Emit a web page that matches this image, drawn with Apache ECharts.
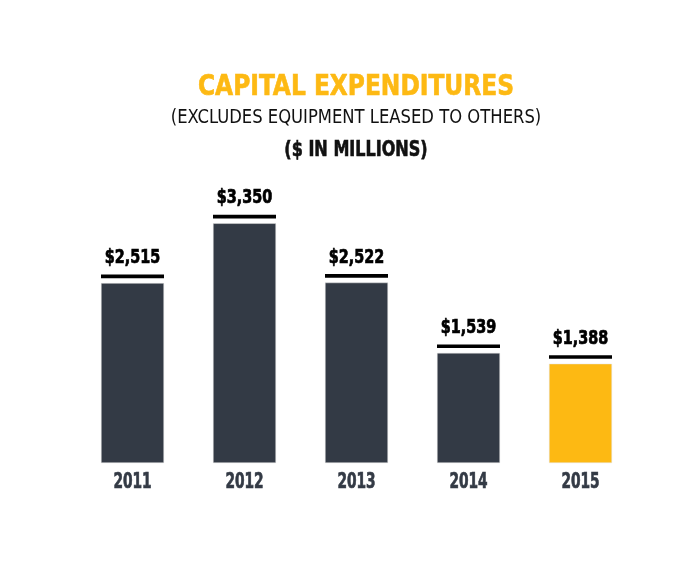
<!DOCTYPE html>
<html>
<head>
<meta charset="utf-8">
<script src="https://cdn.jsdelivr.net/npm/echarts@6/dist/echarts.min.js"></script>
<style>
  html, body { margin: 0; padding: 0; background: #fff; }
  #main { width: 685px; height: 567px; }
</style>
</head>
<body>
<div id="main"></div>
<script>
var years = ['2011', '2012', '2013', '2014', '2015'];
var capex = [2515, 3350, 2522, 1539, 1388];
var barLabels = ['$2,515', '$3,350', '$2,522', '$1,539', '$1,388'];

var DARK = '#333a45';
var YELLOW = '#fdb913';
// 没有窄体字体, 用 DejaVu Sans Condensed 再横向压缩
var FONT = '"DejaVu Sans Condensed", "DejaVu Sans", sans-serif';
var BAR_W = 63;

var myChart = echarts.init(document.getElementById('main'));

// 最后一年用黄色
var barData = [];
var topData = [];
for (var i = 0; i < capex.length; i++) {
  barData.push({
    value: capex[i],
    itemStyle: { color: i == capex.length - 1 ? YELLOW : DARK }
  });
  topData.push([i, capex[i]]);
}

function titleText(text, y, size, weight, color, sx, sw) {
  return {
    type: 'text',
    x: 356,
    y: y,
    scaleX: sx,
    style: {
      text: text,
      align: 'center',
      verticalAlign: 'middle',
      fontFamily: FONT,
      fontWeight: weight,
      fontSize: size,
      fill: color,
      stroke: sw ? color : null,
      lineWidth: sw || 0
    }
  };
}

// 柱顶黑线 + 数值 + 年份
function renderTop(params, api) {
  var idx = params.dataIndex;
  var top = api.coord([api.value(0), api.value(1)]);
  var base = api.coord([api.value(0), 0]);
  var x = top[0];
  var y = top[1];
  return {
    type: 'group',
    children: [
      {
        type: 'rect',
        shape: { x: x - BAR_W / 2, y: y - 8.5, width: BAR_W, height: 3.6 },
        style: { fill: '#000' }
      },
      {
        type: 'text',
        x: x,
        y: y - 25,
        scaleX: 0.82,
        style: {
          text: barLabels[idx],
          align: 'center',
          verticalAlign: 'middle',
          fontFamily: FONT,
          fontWeight: 'bold',
          fontSize: 19.5,
          fill: '#000',
          stroke: '#000',
          lineWidth: 0.7
        }
      },
      {
        type: 'text',
        x: x,
        y: base[1] + 19.5,
        scaleX: 0.71,
        style: {
          text: years[idx],
          align: 'center',
          verticalAlign: 'middle',
          fontFamily: FONT,
          fontWeight: 'bold',
          fontSize: 21.5,
          fill: DARK,
          stroke: DARK,
          lineWidth: 0.7
        }
      }
    ]
  };
}

var option = {
  backgroundColor: '#fff',
  animation: false,
  graphic: [
    titleText('CAPITAL EXPENDITURES', 88, 28.5, 'bold', YELLOW, 0.91, 0.6),
    titleText('(EXCLUDES EQUIPMENT LEASED TO OTHERS)', 118, 19, 'normal', '#111', 0.96, 0),
    titleText('($ IN MILLIONS)', 150.5, 20.5, 'bold', '#111', 0.87, 0.6)
  ],
  grid: {
    left: 76.5,
    right: 48.5,
    top: 176.8,
    bottom: 104
  },
  xAxis: {
    type: 'category',
    data: years,
    axisLine: { show: false },
    axisTick: { show: false },
    axisLabel: { show: false }
  },
  yAxis: {
    type: 'value',
    min: 0,
    max: 4000,
    show: false,
    splitLine: { show: false }
  },
  series: [
    {
      type: 'bar',
      data: barData,
      barWidth: BAR_W,
      itemStyle: {
        borderColor: '#e4e4e4',
        borderWidth: 0.5
      }
    },
    {
      type: 'custom',
      data: topData,
      renderItem: renderTop,
      clip: false,
      z: 3
    }
  ]
};

myChart.setOption(option);
</script>
</body>
</html>
